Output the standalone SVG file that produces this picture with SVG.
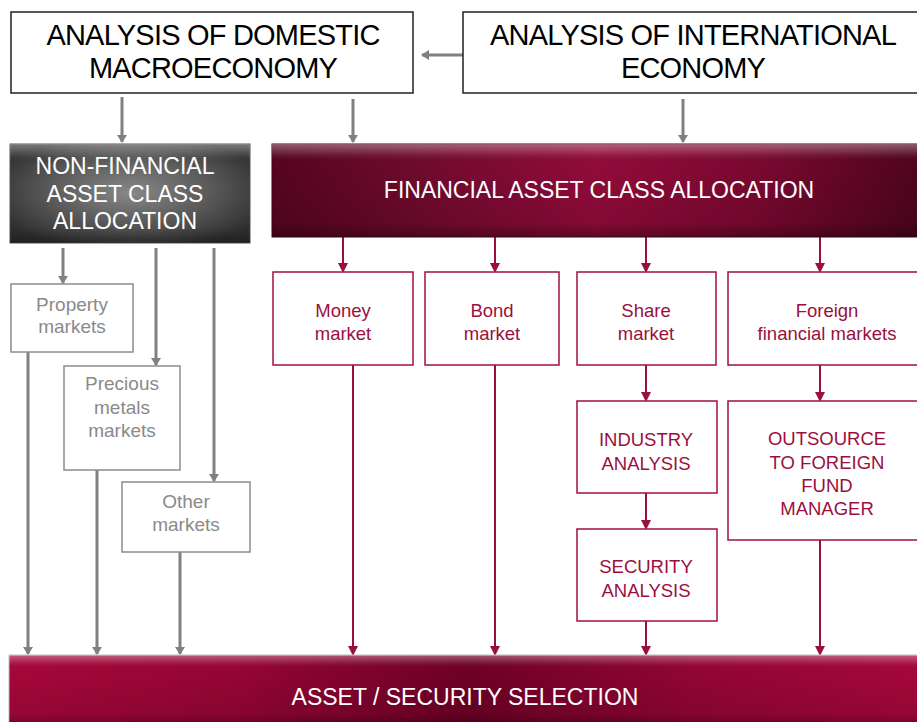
<svg xmlns="http://www.w3.org/2000/svg" width="917" height="722" viewBox="0 0 917 722">
<defs>
<style>
.top{fill:#fff;stroke:#222;stroke-width:1.5}
.gbox{fill:#fff;stroke:#8c8c8c;stroke-width:1.5}
.rbox{fill:#fff;stroke:#a0103e;stroke-width:1.5}
.t{font-family:"Liberation Sans",Arial,sans-serif;text-anchor:middle}
.tb{font-size:29px;fill:#000;letter-spacing:-0.8px}
.tw{font-size:23px;fill:#fff}
.tg{font-size:19px;fill:#8a8a8a}
.tr{font-size:18.5px;fill:#9b0f3e}
.gl{stroke:#808080;stroke-width:3;fill:none}
.rl{stroke:#9b0f3e;stroke-width:2;fill:none}
</style>
<marker id="ga" markerWidth="10" markerHeight="10" refX="7" refY="5" orient="auto" markerUnits="userSpaceOnUse" viewBox="0 0 10 10"><path d="M0,0 L8,5 L0,10 z" fill="#808080"/></marker>
<marker id="ra" markerWidth="10" markerHeight="10" refX="8" refY="5" orient="auto" markerUnits="userSpaceOnUse" viewBox="0 0 10 10"><path d="M0,0 L10,5 L0,10 z" fill="#9b0f3e"/></marker>
<radialGradient id="gg" cx="0.5" cy="0.5" r="0.6">
<stop offset="0" stop-color="#8e8e8e"/><stop offset="0.6" stop-color="#5a5a5a"/><stop offset="1" stop-color="#333"/>
</radialGradient>
<linearGradient id="fg" x1="0" y1="0" x2="1" y2="0">
<stop offset="0" stop-color="#560420"/><stop offset="0.2" stop-color="#6c0a2c"/><stop offset="0.5" stop-color="#920b3a"/><stop offset="0.75" stop-color="#7a0830"/><stop offset="1" stop-color="#4e041e"/>
</linearGradient>
<linearGradient id="bg" x1="0" y1="0" x2="1" y2="0">
<stop offset="0" stop-color="#a6073b"/><stop offset="0.25" stop-color="#960535"/><stop offset="0.5" stop-color="#6e0026"/><stop offset="0.75" stop-color="#930535"/><stop offset="1" stop-color="#a6073b"/>
</linearGradient>
<linearGradient id="vs" x1="0" y1="0" x2="0" y2="1">
<stop offset="0" stop-color="#fff" stop-opacity="0.35"/><stop offset="0.1" stop-color="#fff" stop-opacity="0.12"/><stop offset="0.2" stop-color="#000" stop-opacity="0"/><stop offset="0.85" stop-color="#000" stop-opacity="0.1"/><stop offset="1" stop-color="#000" stop-opacity="0.35"/>
</linearGradient>
</defs>

<g id="connectors">
<line class="gl" x1="463" y1="55" x2="422" y2="55" marker-end="url(#ga)"/>
<line class="gl" x1="122" y1="97" x2="122" y2="142" marker-end="url(#ga)"/>
<line class="gl" x1="353" y1="99" x2="353" y2="142" marker-end="url(#ga)"/>
<line class="gl" x1="683" y1="99" x2="683" y2="142" marker-end="url(#ga)"/>
<line class="gl" x1="63" y1="248" x2="63" y2="283" marker-end="url(#ga)"/>
<line class="gl" x1="156" y1="248" x2="156" y2="365" marker-end="url(#ga)"/>
<line class="gl" x1="214" y1="248" x2="214" y2="481" marker-end="url(#ga)"/>
<line class="gl" x1="28" y1="352" x2="28" y2="654" marker-end="url(#ga)"/>
<line class="gl" x1="97" y1="470" x2="97" y2="654" marker-end="url(#ga)"/>
<line class="gl" x1="180" y1="552" x2="180" y2="654" marker-end="url(#ga)"/>
<line class="rl" x1="343" y1="237" x2="343" y2="271" marker-end="url(#ra)"/>
<line class="rl" x1="495" y1="237" x2="495" y2="271" marker-end="url(#ra)"/>
<line class="rl" x1="646" y1="237" x2="646" y2="271" marker-end="url(#ra)"/>
<line class="rl" x1="820" y1="237" x2="820" y2="271" marker-end="url(#ra)"/>
<line class="rl" x1="646" y1="365" x2="646" y2="400" marker-end="url(#ra)"/>
<line class="rl" x1="646" y1="493" x2="646" y2="528" marker-end="url(#ra)"/>
<line class="rl" x1="646" y1="621" x2="646" y2="654" marker-end="url(#ra)"/>
<line class="rl" x1="820" y1="365" x2="820" y2="400" marker-end="url(#ra)"/>
<line class="rl" x1="820" y1="540" x2="820" y2="654" marker-end="url(#ra)"/>
<line class="rl" x1="353" y1="365" x2="353" y2="654" marker-end="url(#ra)"/>
<line class="rl" x1="495" y1="365" x2="495" y2="654" marker-end="url(#ra)"/>
</g>

<g id="domestic">
<rect class="top" x="11" y="12" width="402" height="81"/>
<text class="t tb" x="213" y="45">ANALYSIS OF DOMESTIC</text>
<text class="t tb" x="213" y="78">MACROECONOMY</text>
</g>
<g id="international">
<rect class="top" x="463" y="12" width="460" height="81"/>
<text class="t tb" x="693" y="45">ANALYSIS OF INTERNATIONAL</text>
<text class="t tb" x="693" y="78">ECONOMY</text>
</g>

<g id="nonfinancial">
<rect x="10" y="144" width="240" height="99" fill="url(#gg)" stroke="#555" stroke-width="1"/>
<rect x="10" y="144" width="240" height="99" fill="url(#vs)"/>
<text class="t tw" x="125" y="174">NON-FINANCIAL</text>
<text class="t tw" x="125" y="202">ASSET CLASS</text>
<text class="t tw" x="125" y="229">ALLOCATION</text>
</g>

<g id="financial">
<rect x="272" y="144" width="650" height="93" fill="url(#fg)" stroke="#4a0018" stroke-width="1"/>
<rect x="272" y="144" width="650" height="93" fill="url(#vs)"/>
<text class="t tw" x="599" y="198">FINANCIAL ASSET CLASS ALLOCATION</text>
</g>

<g id="property">
<rect class="gbox" x="11" y="284" width="122" height="68"/>
<text class="t tg" x="72" y="311">Property</text>
<text class="t tg" x="72" y="333">markets</text>
</g>
<g id="precious">
<rect class="gbox" x="64" y="366" width="116" height="104"/>
<text class="t tg" x="122" y="390">Precious</text>
<text class="t tg" x="122" y="414">metals</text>
<text class="t tg" x="122" y="437">markets</text>
</g>
<g id="other">
<rect class="gbox" x="122" y="482" width="128" height="70"/>
<text class="t tg" x="186" y="508">Other</text>
<text class="t tg" x="186" y="531">markets</text>
</g>

<g id="money">
<rect class="rbox" x="273" y="272" width="140" height="93"/>
<text class="t tr" x="343" y="317">Money</text>
<text class="t tr" x="343" y="340">market</text>
</g>
<g id="bond">
<rect class="rbox" x="425" y="272" width="134" height="93"/>
<text class="t tr" x="492" y="317">Bond</text>
<text class="t tr" x="492" y="340">market</text>
</g>
<g id="share">
<rect class="rbox" x="577" y="272" width="139" height="93"/>
<text class="t tr" x="646" y="317">Share</text>
<text class="t tr" x="646" y="340">market</text>
</g>
<g id="foreign">
<rect class="rbox" x="728" y="272" width="195" height="93"/>
<text class="t tr" x="827" y="317">Foreign</text>
<text class="t tr" x="827" y="340">financial markets</text>
</g>
<g id="industry">
<rect class="rbox" x="577" y="401" width="140" height="92"/>
<text class="t tr" x="646" y="446">INDUSTRY</text>
<text class="t tr" x="646" y="470">ANALYSIS</text>
</g>
<g id="security">
<rect class="rbox" x="577" y="529" width="140" height="92"/>
<text class="t tr" x="646" y="573">SECURITY</text>
<text class="t tr" x="646" y="597">ANALYSIS</text>
</g>
<g id="outsource">
<rect class="rbox" x="728" y="401" width="195" height="139"/>
<text class="t tr" x="827" y="445">OUTSOURCE</text>
<text class="t tr" x="827" y="469">TO FOREIGN</text>
<text class="t tr" x="827" y="492">FUND</text>
<text class="t tr" x="827" y="515">MANAGER</text>
</g>

<g id="selection">
<rect x="9" y="655" width="915" height="70" fill="url(#bg)" stroke="#c0c0c0" stroke-width="1"/>
<rect x="9" y="655" width="915" height="70" fill="url(#vs)"/>
<text class="t tw" x="465" y="705">ASSET / SECURITY SELECTION</text>
</g>
</svg>
